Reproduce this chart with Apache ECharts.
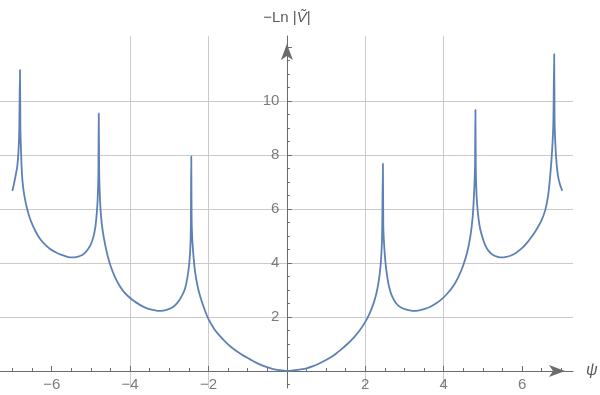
<!DOCTYPE html>
<html>
<head>
<meta charset="utf-8">
<script src="https://cdn.jsdelivr.net/npm/echarts@6/dist/echarts.min.js"></script>
<style>
  html, body { margin: 0; padding: 0; background: #fff; }
  #chart { width: 600px; height: 395px; }
</style>
</head>
<body>
<div id="chart"></div>
<script>
// values (psi, -Ln|V|)
const psi = [
  -7.00, -6.96, -6.92, -6.88, -6.85, -6.83, -6.81, -6.80, -6.79, -6.77, -6.75, -6.72, -6.68, -6.63,
  -6.56, -6.48, -6.40, -6.30, -6.18, -6.05, -5.90, -5.75, -5.60, -5.49, -5.38, -5.28, -5.18, -5.08,
  -5.00, -4.94, -4.89, -4.86, -4.83, -4.81, -4.80, -4.79, -4.77, -4.74, -4.70, -4.64, -4.57, -4.50,
  -4.40, -4.30, -4.18, -4.05, -3.90, -3.75, -3.60, -3.45, -3.30, -3.15, -3.00, -2.88, -2.78, -2.68,
  -2.60, -2.54, -2.49, -2.46, -2.45, -2.44, -2.43, -2.41, -2.38, -2.34, -2.28, -2.20, -2.10, -2.00,
  -1.85, -1.70, -1.55, -1.40, -1.25, -1.10, -0.95, -0.80, -0.65, -0.50, -0.35, -0.20, 0,
  0.20, 0.35, 0.50, 0.65, 0.80, 0.95, 1.10, 1.25, 1.40, 1.55, 1.70, 1.85, 2.00, 2.10, 2.20, 2.28,
  2.34, 2.38, 2.41, 2.43, 2.45, 2.46, 2.48, 2.51, 2.55, 2.61, 2.68, 2.78, 2.90, 3.05, 3.20, 3.35,
  3.50, 3.65, 3.80, 3.95, 4.10, 4.25, 4.38, 4.50, 4.60, 4.68, 4.74, 4.78, 4.80, 4.81, 4.82, 4.84,
  4.87, 4.92, 4.97, 5.06, 5.15, 5.26, 5.38, 5.48, 5.60, 5.72, 5.85, 5.99, 6.12, 6.25, 6.38, 6.50,
  6.59, 6.66, 6.71, 6.75, 6.78, 6.80, 6.82, 6.83, 6.85, 6.88, 6.92, 6.97, 7.02
];
const lnV = [
  6.70, 6.95, 7.25, 7.57, 8.10, 8.80, 11.15, 9.00, 8.43, 7.60, 7.10, 6.70, 6.35, 6.02,
  5.67, 5.38, 5.14, 4.90, 4.70, 4.53, 4.40, 4.30, 4.23, 4.21, 4.22, 4.26, 4.34, 4.50,
  4.70, 4.95, 5.30, 5.70, 6.30, 7.30, 9.54, 7.40, 6.40, 5.70, 5.20, 4.70, 4.25, 3.90,
  3.52, 3.23, 2.97, 2.77, 2.59, 2.45, 2.34, 2.27, 2.23, 2.24, 2.30, 2.40, 2.55, 2.78,
  3.05, 3.45, 4.00, 4.70, 5.50, 7.95, 5.60, 4.80, 4.20, 3.65, 3.15, 2.70, 2.28, 1.92,
  1.55, 1.28, 1.05, 0.86, 0.70, 0.56, 0.44, 0.32, 0.22, 0.14, 0.07, 0.03, 0,
  0.03, 0.06, 0.10, 0.17, 0.26, 0.37, 0.49, 0.64, 0.82, 1.01, 1.23, 1.49, 1.82, 2.10, 2.46, 2.85,
  3.30, 3.75, 4.30, 5.10, 7.68, 5.40, 4.70, 4.10, 3.60, 3.10, 2.78, 2.52, 2.36, 2.27, 2.23, 2.24,
  2.29, 2.37, 2.50, 2.66, 2.88, 3.16, 3.50, 3.92, 4.40, 4.98, 5.70, 6.70, 7.60, 9.67, 7.50, 6.50,
  5.90, 5.35, 5.05, 4.66, 4.44, 4.30, 4.23, 4.21, 4.23, 4.28, 4.38, 4.54, 4.74, 4.98, 5.27, 5.59,
  5.95, 6.45, 7.10, 7.80, 8.50, 9.30, 11.74, 9.30, 8.40, 7.70, 7.20, 6.90, 6.70
];
const xTicks = [-6, -4, -2, 0, 2, 4, 6];
const xLabels = [-6, -4, -2, 2, 4, 6];
const yTicks = [0, 2, 4, 6, 8, 10, 12];
const yLabels = [2, 4, 6, 8, 10];

const chart = echarts.init(document.getElementById('chart'));
const axisColor = '#6b6b6b';
const textColor = '#5a5a5a';
const font = 'Liberation Sans, DejaVu Sans, sans-serif';

// tick labels sit next to the axes that cross at the origin
const tickLabel = (pos, dist) => ({
  show: true,
  position: pos,
  distance: dist,
  color: textColor,
  fontSize: 15,
  fontFamily: font
});

chart.setOption({
  animation: false,
  grid: { left: 0, right: 27, top: 36, bottom: 7, containLabel: false, outerBoundsMode: 'none' },
  xAxis: {
    type: 'value',
    min: -7.32,
    max: 7.30,
    splitNumber: 7,
    name: 'ψ',
    nameLocation: 'end',
    nameGap: 13,
    nameTextStyle: { color: textColor, fontSize: 16, fontStyle: 'italic', fontFamily: font },
    axisLine: {
      onZero: true,
      symbol: ['none', 'arrow'],
      symbolSize: [9, 16],
      symbolOffset: [0, -8],
      lineStyle: { color: axisColor, width: 1 }
    },
    axisTick: { inside: true, length: 5, customValues: xTicks, lineStyle: { color: axisColor } },
    minorTick: { show: true, splitNumber: 4, length: 3, lineStyle: { color: axisColor } },
    axisLabel: { show: false },
    splitLine: { show: true, showMinLine: false, showMaxLine: false, lineStyle: { color: '#cacaca', width: 1 } }
  },
  yAxis: {
    type: 'value',
    min: -0.63,
    max: 12.41,
    splitNumber: 6,
    name: '−Ln |{v|Ṽ}|',
    nameLocation: 'end',
    nameGap: 11,
    nameTextStyle: {
      color: textColor, fontSize: 15, fontFamily: font,
      rich: { v: { color: textColor, fontSize: 15, fontStyle: 'italic', fontFamily: font } }
    },
    axisLine: {
      onZero: true,
      symbol: ['none', 'arrow'],
      symbolSize: [9, 16],
      symbolOffset: [0, -8],
      lineStyle: { color: axisColor, width: 1 }
    },
    axisTick: { inside: true, length: 5, customValues: yTicks, lineStyle: { color: axisColor } },
    minorTick: { show: true, splitNumber: 4, length: 3, lineStyle: { color: axisColor } },
    axisLabel: { show: false },
    splitLine: { show: true, showMinLine: false, showMaxLine: false, lineStyle: { color: '#cacaca', width: 1 } }
  },
  series: [
    {
      type: 'line',
      data: psi.map((x, i) => [x, lnV[i]]),
      showSymbol: false,
      smooth: 0.2,
      z: 3,
      lineStyle: { color: '#5e81b5', width: 1.8, join: 'round', cap: 'round' }
    },
    {
      type: 'scatter',
      silent: true,
      symbolSize: 1,
      itemStyle: { color: 'transparent' },
      data: xLabels.map(v => [v, 0]),
      label: Object.assign(tickLabel('bottom', 6), {
        formatter: p => String(p.value[0]).replace('-', '−')
      })
    },
    {
      type: 'scatter',
      silent: true,
      symbolSize: 1,
      itemStyle: { color: 'transparent' },
      data: yLabels.map(v => [0, v]),
      label: Object.assign(tickLabel('left', 7), {
        formatter: p => String(p.value[1])
      })
    }
  ]
});
</script>
</body>
</html>
